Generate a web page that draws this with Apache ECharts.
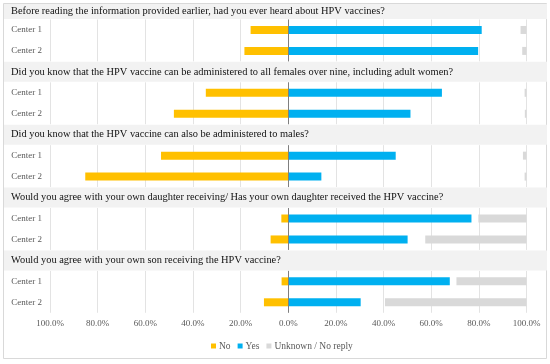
<!DOCTYPE html>
<html>
<head>
<meta charset="utf-8">
<script src="https://cdn.jsdelivr.net/npm/echarts@6/dist/echarts.min.js"></script>
<style>
html,body{margin:0;padding:0;background:#fff;}
#chart{width:550px;height:364px;}
</style>
</head>
<body>
<div id="chart"></div>
<script>
const questions = [
  'Before reading the information provided earlier, had you ever heard about HPV vaccines?',
  'Did you know that the HPV vaccine can be administered to all females over nine, including adult women?',
  'Did you know that the HPV vaccine can also be administered to males?',
  'Would you agree with your own daughter receiving/ Has your own daughter received the HPV vaccine?',
  'Would you agree with your own son receiving the HPV vaccine?'
];
const centers = ['Center 1', 'Center 2'];
const noVals  = [[15.8, 18.4], [34.6, 48.0], [53.4, 85.2], [2.9, 7.4], [2.8, 10.2]];
const yesVals = [[81.2, 79.7], [64.5, 51.3], [45.1, 13.9], [76.9, 50.1], [67.8, 30.4]];
const unkVals = [[2.5, 1.8], [0.8, 0.7], [1.5, 0.8], [20.2, 42.5], [29.4, 59.4]];
const legendNames = ['No', 'Yes', 'Unknown / No reply'];

const FONT = 'Liberation Serif';
const C_NO = '#FFC000', C_YES = '#00B0F0', C_UNK = '#D9D9D9';

const chart = echarts.init(document.getElementById('chart'));
const grids = [], xAxes = [], yAxes = [], series = [], graphics = [];
const pitch = 20.95, base = 9;

graphics.push({type:'rect', z:0, shape:{x:3.5, y:3.5, width:543, height:355}, style:{fill:'none', stroke:'#d9d9d9', lineWidth:1}});

for (let i = 0; i < questions.length; i++) {
  const bandC = base + pitch * 3 * i;
  const bandTop = Math.max(4, bandC - 10);
  const bandBot = bandC + 10;
  graphics.push({type:'rect', z:1, shape:{x:4, y:bandTop, width:543, height:bandBot - bandTop}, style:{fill:'#F2F2F2'}});
  graphics.push({type:'text', z:2, x:11, y:(bandTop + bandBot) / 2,
    style:{text:questions[i], font:'10.4px "' + FONT + '"', fill:'#111111', textVerticalAlign:'middle', verticalAlign:'middle'}});

  const c1 = base + pitch * (3 * i + 1);
  grids.push({left:50, right:23.5, top:c1 - pitch / 2, height:pitch * 2});
  xAxes.push({
    gridIndex:i, type:'value', min:-100, max:100, interval:20,
    axisLine:{show:false}, axisTick:{show:false},
    splitLine:{show:true, lineStyle:{color:'#e3e3e3', width:1}},
    axisLabel:{show:i === questions.length - 1, margin:6, color:'#595959', fontSize:9, fontFamily:FONT,
      formatter:v => Math.abs(v).toFixed(1) + '%'}
  });
  yAxes.push({
    gridIndex:i, type:'category', data:centers, inverse:true,
    axisLine:{show:false}, axisTick:{show:false}, splitLine:{show:false},
    axisLabel:{margin:8, color:'#595959', fontSize:9, fontFamily:FONT}
  });
  const common = {type:'bar', xAxisIndex:i, yAxisIndex:i, barWidth:8, barGap:'-100%'};
  series.push(Object.assign({}, common, {name:legendNames[0], itemStyle:{color:C_NO}, data:noVals[i].map(v => -v)}));
  series.push(Object.assign({}, common, {name:legendNames[1], itemStyle:{color:C_YES}, data:yesVals[i],
    markLine:{silent:true, symbol:'none', label:{show:false}, animation:false,
      lineStyle:{color:'#7f7f7f', type:'solid', width:1}, data:[{xAxis:0}]}}));
  series.push(Object.assign({}, common, {name:'spacer' + i, stack:'u' + i, silent:true,
    itemStyle:{color:'rgba(0,0,0,0)'}, data:unkVals[i].map(v => 100 - v)}));
  series.push(Object.assign({}, common, {name:legendNames[2], stack:'u' + i, itemStyle:{color:C_UNK}, data:unkVals[i]}));
}

chart.setOption({
  animation:false,
  backgroundColor:'#ffffff',
  textStyle:{fontFamily:FONT},
  grid:grids, xAxis:xAxes, yAxis:yAxes, series:series,
  graphic:graphics,
  legend:{data:legendNames, left:206, top:336, icon:'rect', itemWidth:5, itemHeight:5, itemGap:7,
    textStyle:{color:'#595959', fontSize:9.5, fontFamily:FONT, padding:[0,0,0,-2]}, selectedMode:false}
});
</script>
</body>
</html>
